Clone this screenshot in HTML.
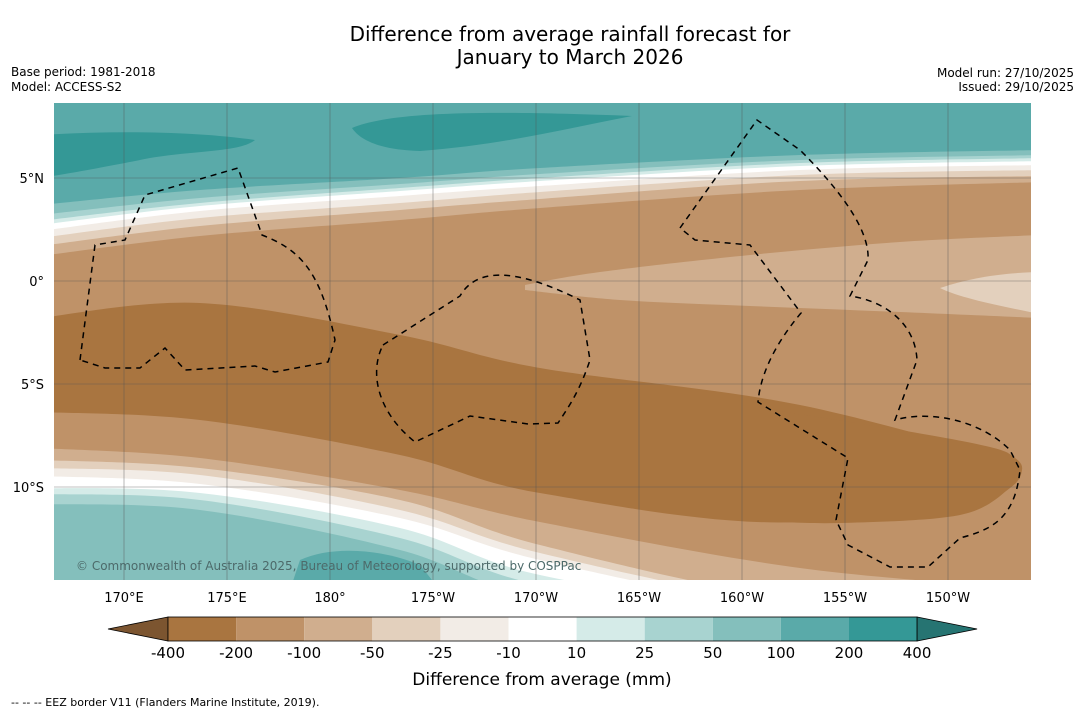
<!DOCTYPE html>
<html><head><meta charset="utf-8"><style>
body{margin:0;background:#fff;font-family:"Liberation Sans","DejaVu Sans",sans-serif;}
svg text{font-family:"DejaVu Sans","Liberation Sans",sans-serif;}
</style></head><body>
<svg id="c" width="1085" height="713" xmlns="http://www.w3.org/2000/svg">
<text x="570" y="41" font-size="20" text-anchor="middle">Difference from average rainfall forecast for</text>
<text x="570" y="64" font-size="20" text-anchor="middle">January to March 2026</text>
<text x="11" y="76" font-size="12">Base period: 1981-2018</text>
<text x="11" y="91" font-size="12">Model: ACCESS-S2</text>
<text x="1074" y="77" font-size="12" text-anchor="end">Model run: 27/10/2025</text>
<text x="1074" y="91" font-size="12" text-anchor="end">Issued: 29/10/2025</text>
<defs><clipPath id="mc"><rect x="54" y="103" width="977" height="477"/></clipPath></defs>
<g id="map" clip-path="url(#mc)"></g>
<g id="grid"></g>
<g id="eez" clip-path="url(#mc)"></g>
<text x="76" y="570" font-size="12" fill="#4d6a6a">© Commonwealth of Australia 2025, Bureau of Meteorology, supported by COSPPac</text>
<g id="axes"></g>
<g id="cbar"></g>
<text x="542" y="685" font-size="17" text-anchor="middle">Difference from average (mm)</text>
<text x="11" y="706" font-size="11">--  --  -- EEZ border V11 (Flanders Marine Institute, 2019).</text>
</svg>
<script>
const cbLevels=["-400","-200","-100","-50","-25","-10","10","25","50","100","200","400"];
const cbColors=["#a97540","#bf9268","#d0ae8e","#e3d0bd","#f2ece6","#ffffff","#d5ebe8","#a8d3d0","#84bfbc","#5aaaa9","#349896"];
const lonTicks=[170,175,180,-175,-170,-165,-160,-155,-150];
const latTicks=[5,0,-5,-10];
const NS="http://www.w3.org/2000/svg";
function X(lon){let l=lon<0?lon+360:lon;return 124+(l-170)*20.6;}
function Y(lat){return 281-lat*20.6;}
function mk(t,a,p){const e=document.createElementNS(NS,t);for(const k in a)e.setAttribute(k,a[k]);p.appendChild(e);return e;}
function smooth(pts){let d="M"+pts[0][0]+","+pts[0][1];for(let i=0;i<pts.length-1;i++){const p0=pts[Math.max(i-1,0)],p1=pts[i],p2=pts[i+1],p3=pts[Math.min(i+2,pts.length-1)];d+=" C"+(p1[0]+(p2[0]-p0[0])/6)+","+(p1[1]+(p2[1]-p0[1])/6)+" "+(p2[0]-(p3[0]-p1[0])/6)+","+(p2[1]-(p3[1]-p1[1])/6)+" "+p2[0]+","+p2[1];}return d;}
const map=document.getElementById('map');
const xs=[40,200,400,540,800,1045];
mk('rect',{x:54,y:103,width:977,height:477,fill:"#5aaaa9"},map);
const bounds=[
["#84bfbc",[205,190,178,168,155,150]],
["#a8d3d0",[215,198,184,174,160,155]],
["#d5ebe8",[221,203,188,178,163,158]],
["#ffffff",[225,206,191,181,166,161]],
["#f2ece6",[231,211,196,186,170,165]],
["#e3d0bd",[238,218,203,192,175,170]],
["#d0ae8e",[246,226,210,199,181,176]],
["#bf9268",[256,236,220,208,190,182]],
["#a97540",[318,303,335,368,405,470]],
["#bf9268",[412,420,455,493,522,470]],
["#d0ae8e",[448,458,490,522,568,590]],
["#e3d0bd",[460,468,500,545,600,610]],
["#f2ece6",[468,475,510,553,605,615]],
["#ffffff",[476,484,518,560,610,620]],
["#d5ebe8",[488,493,528,575,615,625]],
["#a8d3d0",[494,500,538,585,620,630]],
["#84bfbc",[504,510,550,598,625,635]]];
for(const b of bounds){const pts=xs.map((x,i)=>[x,b[1][i]]);const d=smooth(pts)+" L1045,700 L40,700 Z";const e=mk('path',{d:d,fill:b[0]},map);

}
// right-side -100 edge and -200 blob
const edge=mk('path',{d:"M960,400 L1045,400 L1045,560 L960,560 Z",fill:"#bf9268"},map);

const blob=mk('path',{d:smooth([[760,408],[900,430],[990,447],[1015,458],[1022,470],[1010,488],[960,515],[840,523],[760,521]])+" Z",fill:"#a97540"},map);

const lp=mk('path',{d:smooth([[525,285],[600,272],[750,255],[900,242],[1040,235]])+" L1040,318 "+smooth([[1040,318],[900,312],[750,306],[620,300],[525,290]]).slice(1)+" Z",fill:"#d0ae8e"},map);

const lp2=mk('path',{d:"M940,288 C970,278 1000,273 1040,272 L1040,314 C1000,306 960,298 940,288 Z",fill:"#e3d0bd"},map);

// dark teal patches
const d1=mk('path',{d:"M40,135 C120,130 200,132 255,140 C240,152 200,150 150,158 C100,168 60,175 40,178 Z",fill:"#349896"},map);

const d2=mk('path',{d:"M352,128 C390,112 480,110 632,116 C560,130 500,145 420,151 C380,150 360,140 352,128 Z",fill:"#349896"},map);

const d3=mk('path',{d:"M300,560 C330,546 380,548 420,565 L440,590 L290,590 Z",fill:"#5aaaa9"},map);

// grid
const grid=document.getElementById('grid');
for(const lo of lonTicks){const g=mk('line',{x1:X(lo),x2:X(lo),y1:103,y2:580,stroke:"#555",'stroke-width':0.6,opacity:0.7},grid);}
for(const la of latTicks){const g=mk('line',{x1:54,x2:1031,y1:Y(la),y2:Y(la),stroke:"#555",'stroke-width':0.6,opacity:0.7},grid);}
// EEZ
const eez=document.getElementById('eez');
const eezPaths=[
"M80,360 L95,245 L125,240 L145,195 L238,168 L262,235 C300,250 320,270 335,340 L328,362 L275,372 L255,366 L185,370 L165,348 L140,368 L105,368 Z",
"M383,345 L460,296 C475,270 510,265 580,300 L590,360 C580,390 570,405 558,423 L528,424 L470,416 L415,442 C375,410 370,370 383,345 Z",
"M680,228 L757,120 L800,150 C840,190 870,230 868,260 L850,296 C880,300 915,320 917,360 L895,420 C930,410 980,420 1010,450 L1020,470 C1015,520 990,530 960,538 L928,567 L890,567 L848,545 L836,520 L848,458 L758,402 C760,380 770,350 801,313 L750,245 L695,240 Z"];
for(const p of eezPaths){const e=mk('path',{d:p,fill:"none",stroke:"#000",'stroke-width':1.5,'stroke-dasharray':"6 5"},eez);}
// axes labels
const axes=document.getElementById('axes');
lonTicks.forEach(lo=>{const t=mk('text',{x:X(lo),y:602,'font-size':13,'text-anchor':'middle'},axes);t.textContent=Math.abs(lo)+"°"+(lo===180?"":(lo>0?"E":"W"));});
latTicks.forEach(la=>{const t=mk('text',{x:44,y:Y(la)+5,'font-size':13,'text-anchor':'end'},axes);t.textContent=Math.abs(la)+"°"+(la===0?"":(la>0?"N":"S"));});
// colorbar
const cb=document.getElementById('cbar');
const x0=168,w=68.1,y0=617,h=24;
const la=mk('polygon',{points:`${x0},${y0} 108,${y0+h/2} ${x0},${y0+h}`,fill:"#7c5530",stroke:"#000",'stroke-width':0.8},cb);

cbColors.forEach((c,i)=>{const r=mk('rect',{x:x0+i*w,y:y0,width:w,height:h,fill:c},cb);});
const xe=x0+cbColors.length*w;
const ra=mk('polygon',{points:`${xe},${y0} ${xe+60},${y0+h/2} ${xe},${y0+h}`,fill:"#267472",stroke:"#000",'stroke-width':0.8},cb);

mk('rect',{x:x0,y:y0,width:xe-x0,height:h,fill:"none",stroke:"#000",'stroke-width':0.8},cb);
cbLevels.forEach((l,i)=>{const t=mk('text',{x:x0+i*w,y:658,'font-size':15,'text-anchor':'middle'},cb);t.textContent=l;});
</script>
</body></html>
